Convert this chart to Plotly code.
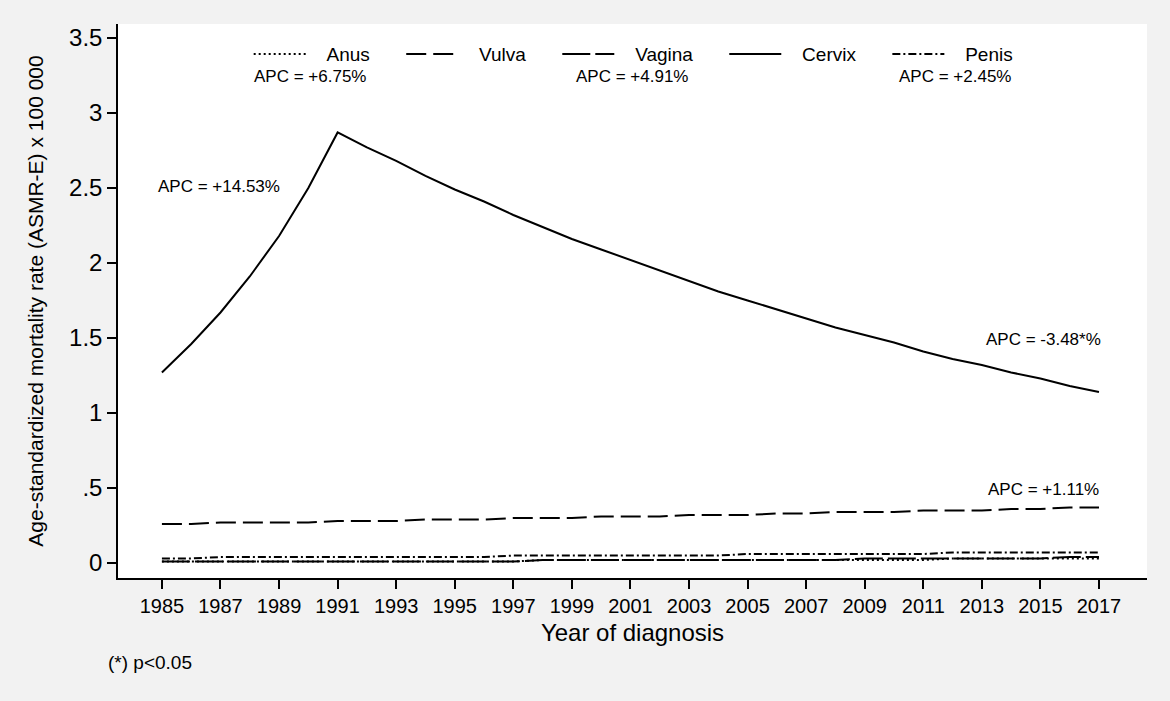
import plotly.graph_objects as go

years = list(range(1985, 2018))

cervix = [1.27, 1.46, 1.67, 1.91, 2.18, 2.50, 2.87, 2.77, 2.68, 2.58, 2.49, 2.41, 2.32,
          2.24, 2.16, 2.09, 2.02, 1.95, 1.88, 1.81, 1.75, 1.69, 1.63, 1.57, 1.52, 1.47,
          1.41, 1.36, 1.32, 1.27, 1.23, 1.18, 1.14]
vulva = [0.26, 0.26, 0.27, 0.27, 0.27, 0.27, 0.28, 0.28, 0.28, 0.29, 0.29, 0.29, 0.30,
         0.30, 0.30, 0.31, 0.31, 0.31, 0.32, 0.32, 0.32, 0.33, 0.33, 0.34, 0.34, 0.34,
         0.35, 0.35, 0.35, 0.36, 0.36, 0.37, 0.37]
penis = [0.03, 0.03, 0.04, 0.04, 0.04, 0.04, 0.04, 0.04, 0.04, 0.04, 0.04, 0.04, 0.05,
         0.05, 0.05, 0.05, 0.05, 0.05, 0.05, 0.05, 0.06, 0.06, 0.06, 0.06, 0.06, 0.06,
         0.06, 0.07, 0.07, 0.07, 0.07, 0.07, 0.07]
anus = [0.01, 0.01, 0.01, 0.01, 0.01, 0.01, 0.01, 0.01, 0.01, 0.01, 0.01, 0.01, 0.01,
        0.02, 0.02, 0.02, 0.02, 0.02, 0.02, 0.02, 0.02, 0.02, 0.02, 0.02, 0.02, 0.02,
        0.02, 0.03, 0.03, 0.03, 0.03, 0.03, 0.03]
vagina = [0.01, 0.01, 0.01, 0.01, 0.01, 0.01, 0.01, 0.01, 0.01, 0.01, 0.01, 0.01, 0.01,
          0.02, 0.02, 0.02, 0.02, 0.02, 0.02, 0.02, 0.02, 0.02, 0.02, 0.02, 0.03, 0.03,
          0.03, 0.03, 0.03, 0.03, 0.03, 0.04, 0.04]

x_ticks = list(range(1985, 2018, 2))
y_ticks = [0, 0.5, 1, 1.5, 2, 2.5, 3, 3.5]
y_ticklabels = ["0", ".5", "1", "1.5", "2", "2.5", "3", "3.5"]

apc_labels = ["APC = +6.75%", "APC = +4.91%", "APC = +2.45%",
              "APC = +14.53%", "APC = -3.48*%", "APC = +1.11%"]
apc_x = [1990.05, 2001.05, 2012.08, 1986.95, 2015.1, 2015.1]
apc_y = [3.24, 3.24, 3.24, 2.51, 1.49, 0.49]

FONT = "Liberation Sans, Arial, sans-serif"
PAD_L = "\u00a0" * 3  # gap between legend sample and label
PAD_R = "\u00a0" * 5  # gap between label and next sample

fig = go.Figure()
# Stata-like line patterns
series = [("Anus", anus, "2px,3px"), ("Vulva", vulva, "20px,7px"),
          ("Vagina", vagina, "28px,5px"), ("Cervix", cervix, "solid"),
          ("Penis", penis, "8px,3px,2px,3px")]
for name, vals, dash in series:
    fig.add_trace(go.Scatter(x=years, y=vals, mode="lines", name=PAD_L + name + PAD_R,
                             line=dict(color="black", width=2, dash=dash)))

for txt, ax_, ay_ in zip(apc_labels, apc_x, apc_y):
    fig.add_annotation(x=ax_, y=ay_, text=txt, showarrow=False,
                       font=dict(size=17, color="black", family=FONT))

fig.add_annotation(xref="paper", yref="paper", x=-0.012, y=-0.153, text="(*) p<0.05",
                   xanchor="left", yanchor="middle", showarrow=False,
                   font=dict(size=19, color="black", family=FONT))

fig.update_layout(
    width=1170, height=701,
    margin=dict(l=118, r=23, t=24, b=123),
    paper_bgcolor="#f2f2f2", plot_bgcolor="white",
    font=dict(family=FONT, color="black"),
    showlegend=True,
    legend=dict(orientation="h", x=0.127, xanchor="left", y=0.98, yanchor="top",
                bgcolor="rgba(0,0,0,0)", font=dict(size=19), itemwidth=52),
)
fig.update_xaxes(range=[1983.5, 2018.64], tickvals=x_ticks, ticks="outside", ticklen=9,
                 tickwidth=1.5, tickcolor="black", showline=True, linecolor="black",
                 linewidth=1.5, showgrid=False, zeroline=False,
                 tickfont=dict(size=20),
                 title=dict(text="Year of diagnosis", font=dict(size=24), standoff=8))
fig.update_yaxes(range=[-0.1, 3.593], tickvals=y_ticks, ticktext=y_ticklabels,
                 ticks="outside", ticklen=9, tickwidth=1.5, tickcolor="black",
                 showline=True, linecolor="black", linewidth=1.5, showgrid=False,
                 zeroline=False, tickfont=dict(size=24),
                 title=dict(text="Age-standardized mortality rate (ASMR-E) x 100 000",
                            font=dict(size=21), standoff=20))

fig.write_html("out.html", config={"responsive": False, "displayModeBar": False},
               post_script="document.body.style.margin='0';document.body.style.overflow='hidden';")
